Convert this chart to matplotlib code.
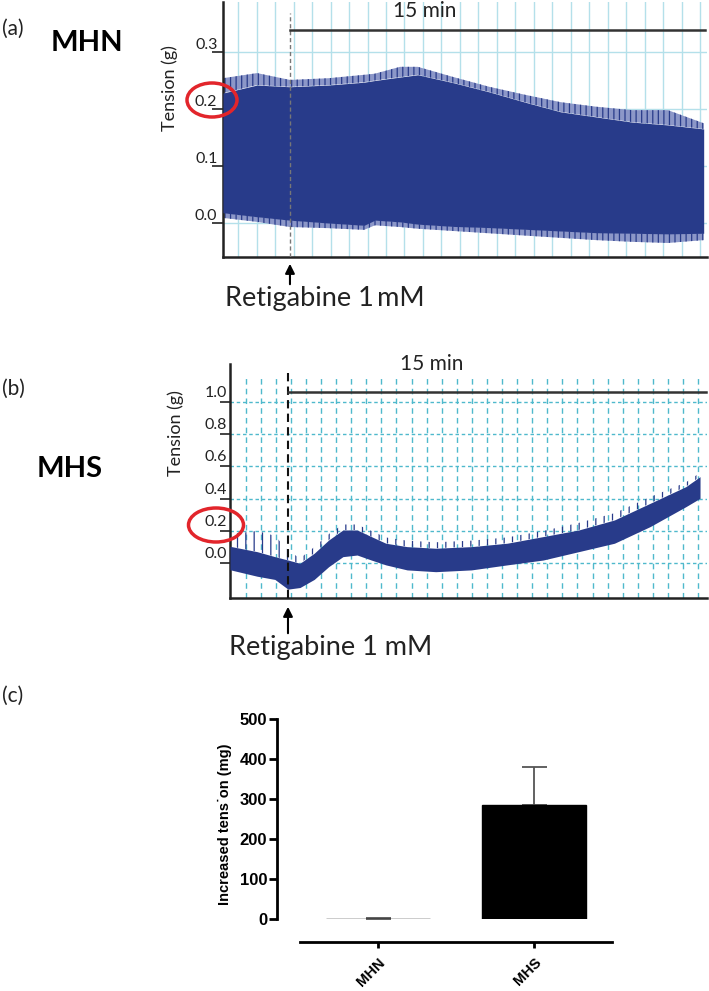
import matplotlib
matplotlib.use('Agg')
import matplotlib.pyplot as plt
from matplotlib.patches import Ellipse
import numpy as np

# ---------------- data ----------------
# Panel (a) MHN trace envelope (time in min relative to retigabine, tension in g)
t_a = [-2.42, -1.19, 0.0, 1.39, 2.68, 3.07, 3.98, 4.62, 5.91, 7.20, 8.49, 9.78, 11.07, 12.37, 13.66, 14.95]
a_top = [0.228, 0.242, 0.239, 0.242, 0.247, 0.250, 0.256, 0.260, 0.246, 0.230, 0.212, 0.195, 0.186, 0.177, 0.172, 0.165]
a_top_spike = [0.254, 0.263, 0.251, 0.254, 0.260, 0.262, 0.274, 0.274, 0.256, 0.239, 0.225, 0.212, 0.204, 0.198, 0.198, 0.175]
a_bot = [0.018, 0.011, 0.005, 0.0, -0.004, 0.005, 0.002, -0.002, -0.006, -0.008, -0.011, -0.014, -0.017, -0.018, -0.019, -0.018]
a_bot_spike = [0.009, 0.002, -0.007, -0.009, -0.012, -0.004, -0.007, -0.010, -0.014, -0.018, -0.022, -0.026, -0.030, -0.033, -0.035, -0.030]

# Panel (b) MHS trace envelope
t_b = [-2.08, -1.11, -0.47, 0.0, 0.43, 0.94, 1.46, 1.97, 2.48, 2.99, 3.51, 4.27, 5.30, 6.58, 7.86, 9.15, 10.43, 11.71, 12.99, 14.27, 14.78]
b_top = [0.105, 0.072, 0.041, 0.020, 0.0, 0.062, 0.144, 0.206, 0.206, 0.165, 0.124, 0.103, 0.093, 0.103, 0.124, 0.165, 0.206, 0.268, 0.371, 0.474, 0.536]
b_top_spike = [0.18, 0.20, 0.17, 0.08, 0.03, 0.10, 0.18, 0.24, 0.24, 0.20, 0.16, 0.14, 0.13, 0.14, 0.16, 0.20, 0.25, 0.31, 0.41, 0.50, 0.56]
b_bot = [-0.04, -0.08, -0.10, -0.16, -0.15, -0.10, -0.021, 0.041, 0.051, 0.020, -0.010, -0.041, -0.052, -0.041, -0.010, 0.020, 0.072, 0.124, 0.227, 0.350, 0.402]

a_yticks = [0.0, 0.1, 0.2, 0.3]
a_yticklabels = ['0.0', '0.1', '0.2', '0.3']
b_yticks = [0.0, 0.2, 0.4, 0.6, 0.8, 1.0]
b_yticklabels = ['0.0', '0.2', '0.4', '0.6', '0.8', '1.0']

# Panel (c) bar chart
groups = ['MHN', 'MHS']
increase_mg = [2, 287]
increase_err = [2, 94]
c_yticks = [0, 100, 200, 300, 400, 500]

# ---------------- figure ----------------
plt.rcParams['hatch.linewidth'] = 0.9
W, H = 709, 991
fig = plt.figure(figsize=(W / 100, H / 100), dpi=100)


def fx(px):
    return px / W


def fy(py):
    return 1 - py / H


TRACE = '#283b8a'
FRINGE = '#8c97c8'
FONT = 'Lato'
TXT = '#222222'


def trace_axes(ax, yticks, ylabels, label_dx, label_dy, ticklen):
    for s in ['top', 'right']:
        ax.spines[s].set_visible(False)
    for s in ['left', 'bottom']:
        ax.spines[s].set_linewidth(1.8)
        ax.spines[s].set_color('#222222')
    ax.set_yticks(yticks)
    ax.set_yticklabels([''] * len(yticks))
    ax.tick_params(axis='y', length=ticklen, width=1.2, color='#222222', direction='out')
    ax.tick_params(axis='x', length=0, labelbottom=False)
    for v, lab in zip(yticks, ylabels):
        ax.annotate(lab, xy=(0, v), xycoords=('axes fraction', 'data'),
                    xytext=(label_dx, label_dy), textcoords='offset points',
                    ha='right', va='bottom', fontsize=11.5, family=FONT, color=TXT)
    ax.set_axisbelow(True)


# ----- panel (a)
ax_a = fig.add_axes([fx(223), fy(257), (707 - 223) / W, (257 - 2) / H])
ax_a.set_xlim(-2.42, 15.07)
ax_a.set_ylim(-0.0596, 0.3877)
trace_axes(ax_a, a_yticks, a_yticklabels, -4.0, 0.3, 7.9)
a_vgrid = [-1.87 + 0.6675 * k for k in range(26)]
ax_a.set_xticks(a_vgrid)
ax_a.grid(True, color='#b4e0ea', lw=1.0, ls='-')
ax_a.fill_between(t_a, a_top, a_top_spike, facecolor=FRINGE, edgecolor=TRACE,
                  hatch='|||', lw=0, zorder=2)
ax_a.fill_between(t_a, a_bot_spike, a_bot, facecolor=FRINGE, edgecolor=TRACE,
                  hatch='|||', lw=0, zorder=2)
ax_a.fill_between(t_a, a_bot, a_top, color=TRACE, lw=0, zorder=3)
ax_a.axvline(0, ymin=0, ymax=0.957, color='#777777', lw=1.0, ls=(0, (3, 2)), zorder=4)
ax_a.plot([0, 15], [0.3386, 0.3386], color='#333333', lw=1.8, clip_on=False, zorder=4)
ax_a.text(4.88, 0.372, '15 min', ha='center', va='center', fontsize=15, family=FONT, color=TXT)
ax_a.annotate('', xy=(0, fy(261)), xycoords=('data', 'figure fraction'),
              xytext=(0, fy(287)), textcoords=('data', 'figure fraction'),
              arrowprops=dict(arrowstyle='-|>', color='black', lw=1.5, mutation_scale=14))
fig.text(fx(325), fy(306), 'Retigabine 1\u2009mM', ha='center', va='baseline',
         fontsize=19.5, family=[FONT, 'DejaVu Sans'], color=TXT)
fig.text(fx(170), fy(88), 'Tension (g)', rotation=90, ha='center', va='center',
         fontsize=13, family=FONT, color=TXT)
fig.text(fx(2), fy(29), '(a)', ha='left', va='center', fontsize=15, family=FONT, color=TXT)
fig.text(fx(86.5), fy(43), 'MHN', ha='center', va='center', fontsize=21,
         family=FONT, weight='bold', color='black')
fig.add_artist(Ellipse((fx(212), fy(100)), 50 / W, 34 / H, transform=fig.transFigure,
                       fill=False, ec='#e2252b', lw=2.5))

# ----- panel (b)
ax_b = fig.add_axes([fx(230), fy(597.7), (707 - 230) / W, (597.7 - 364) / H])
ax_b.set_xlim(-2.08, 15.03)
ax_b.set_ylim(-0.213, 1.233)
trace_axes(ax_b, b_yticks, b_yticklabels, -2.0, 1.5, 7.2)
b_vgrid = [-1.518 + 0.541 * k for k in range(31)]
ax_b.set_xticks(b_vgrid)
ax_b.grid(False)
for v in b_yticks:
    ax_b.plot([-2.08, 15.03], [v, v], color='#4fb9cc', lw=1.0, ls=(0, (2.5, 2)), zorder=1)
for g in b_vgrid:
    ax_b.plot([g, g], [-0.213, 1.15], color='#4fb9cc', lw=1.0, ls=(0, (4, 3)), zorder=1)
ax_b.fill_between(t_b, b_top, b_top_spike, facecolor='none', edgecolor=TRACE,
                  hatch='||', lw=0, zorder=2)
ax_b.fill_between(t_b, b_bot, b_top, color=TRACE, lw=0, zorder=3)
ax_b.axvline(0, ymin=0, ymax=0.974, color='#111111', lw=1.5, ls=(0, (4, 2.5)), zorder=4)
ax_b.plot([0, 15], [1.058, 1.058], color='#333333', lw=1.8, clip_on=False, zorder=4)
ax_b.text(5.17, 1.233, '15 min', ha='center', va='center', fontsize=15, family=FONT,
          color=TXT, clip_on=False)
ax_b.annotate('', xy=(0, fy(604)), xycoords=('data', 'figure fraction'),
              xytext=(0, fy(636)), textcoords=('data', 'figure fraction'),
              arrowprops=dict(arrowstyle='-|>', color='black', lw=1.5, mutation_scale=14))
fig.text(fx(331), fy(655), 'Retigabine 1 mM', ha='center', va='baseline',
         fontsize=19.5, family=FONT, color=TXT)
fig.text(fx(176), fy(433), 'Tension (g)', rotation=90, ha='center', va='center',
         fontsize=13, family=FONT, color=TXT)
fig.text(fx(2), fy(389), '(b)', ha='left', va='center', fontsize=15, family=FONT, color=TXT)
fig.text(fx(69.5), fy(469), 'MHS', ha='center', va='center', fontsize=21,
         family=FONT, weight='bold', color='black')
fig.add_artist(Ellipse((fx(216), fy(525)), 55 / W, 34 / H, transform=fig.transFigure,
                       fill=False, ec='#e2252b', lw=2.5))

# ----- panel (c)
ax_c = fig.add_axes([fx(276.7), fy(919.3), (612 - 276.7) / W, 200 / H])
xpos = np.arange(len(groups))
ax_c.bar(xpos, increase_mg, width=0.665, color='black', edgecolor='black', lw=1.0, zorder=3)
ax_c.errorbar(xpos, increase_mg, yerr=[[0] * len(groups), increase_err], fmt='none',
              ecolor='#555555', elinewidth=1.3, capsize=9, capthick=1.3, zorder=2)
ax_c.set_xlim(-0.646, 1.5)
ax_c.set_ylim(0, 500)
for s in ['top', 'right']:
    ax_c.spines[s].set_visible(False)
ax_c.spines['left'].set_bounds(0, 500)
ax_c.spines['left'].set_linewidth(2)
ax_c.spines['bottom'].set_position(('outward', 16.6))
ax_c.spines['bottom'].set_bounds(-0.5, 1.5)
ax_c.spines['bottom'].set_linewidth(2)
ax_c.set_yticks(c_yticks)
ax_c.set_yticklabels([str(v) for v in c_yticks], fontsize=12, weight='bold',
                     family='Liberation Sans')
ax_c.tick_params(axis='y', length=5.8, width=2, pad=1)
ax_c.set_xticks(xpos)
ax_c.set_xticklabels(groups, rotation=45, ha='right', rotation_mode='anchor',
                     fontsize=10.5, weight='bold', family='Liberation Sans')
ax_c.tick_params(axis='x', length=4.3, width=2, pad=5)
fig.text(fx(225), fy(824), 'Increased tens\u02d9on (mg)', rotation=90, ha='center',
         va='center', fontsize=10.5, weight='bold', family=['Liberation Sans', 'DejaVu Sans'])
fig.text(fx(2), fy(696), '(c)', ha='left', va='center', fontsize=15, family=FONT, color=TXT)

fig.savefig('out.png', dpi=100)
